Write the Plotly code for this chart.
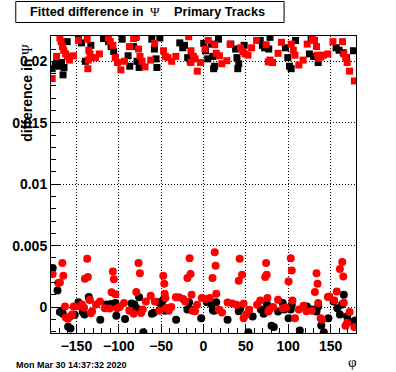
import plotly.graph_objects as go

# ---------------- data ----------------
# black squares (upper band)
sq_black_phi = [-178.6, -175, -173.4, -170.3, -167.5, -165.8, -164.6, -160.9, -147.6, -144, -139.5, -133,
                -118, -112, -109, -106, -104, -96, -89, -87, -80, -82.5, -78.5, -76, -61, -58, -56, -55,
                -51.5, -28, -24.5, -22.4, -18.7, -15.6, 0.3, 2.3, 5, 9.4, 11, 13.2, 12, 17.7, 32.2, 37.9,
                39.5, 41.6, 40.5, 48, 67, 69.5, 72, 78.5, 77, 96.7, 99.5, 101.5, 103.5, 108.7, 127, 125,
                130, 135.4, 156.5, 160, 165, 168.7, 177]
sq_black_val = [0.0194, 0.0197, 0.01985, 0.0196, 0.0199, 0.0189, 0.0195, 0.0216, 0.0218, 0.0215, 0.0200, 0.0213,
                0.02185, 0.0216, 0.0212, 0.0208, 0.0203, 0.0218, 0.02045, 0.0196, 0.02195, 0.0212, 0.0200, 0.0195,
                0.0218, 0.0210, 0.0202, 0.0195, 0.0219, 0.0215, 0.0211, 0.0213, 0.0203, 0.0200, 0.02146, 0.02086,
                0.0202, 0.0214, 0.0204, 0.0196, 0.0194, 0.0218, 0.0214, 0.0210, 0.0203, 0.0198, 0.0194, 0.0213,
                0.0217, 0.0213, 0.0211, 0.02195, 0.0210, 0.0211, 0.0203, 0.0196, 0.0194, 0.0217, 0.0218, 0.0206,
                0.0204, 0.0199, 0.0211, 0.0209, 0.0207, 0.0203, 0.02086]

# red squares (upper band)
sq_red_phi = [-178.6, -173.4, -169.5, -168, -166.5, -165, -162.7, -160.5, -158.2, -153.3, -147.6, -137.3,
              -135.4, -134, -136, -131.5, -136.5, -127.4, -122.9, -112.3, -110, -107, -104, -101.5, -97.5,
              -93.3, -87.3, -82.5, -79.3, -76.7, -75, -72.5, -69, -62.3, -57.7, -47.2, -45, -42, -37.5,
              -32.7, -17.5, -14.8, -12, -9.9, -14.8, -7.3, -3.4, 1.8, 5.6, 13.2, 15.1, 18.9, 21.6, 27.6,
              31.4, 43.6, 46.5, 49, 52.5, 56.8, 62.6, 74, 76.5, 78.5, 81.5, 88, 92.1, 103.5, 106, 108,
              112.5, 117.5, 122.4, 128.5, 131, 133.4, 134.6, 136, 138.5, 141.5, 146.7, 152.8, 164.1, 165.6,
              168, 169.5, 172.4, 178.1]
sq_red_val = [0.0186, 0.0204, 0.0219, 0.0216, 0.0212, 0.0209, 0.0206, 0.0204, 0.0201, 0.02045, 0.0217, 0.0218,
              0.0209, 0.0206, 0.0201, 0.0203, 0.0194, 0.0203, 0.0206, 0.0219, 0.0216, 0.0213, 0.0203, 0.0199, 0.0193,
              0.0200, 0.0212, 0.02185, 0.0220, 0.0210, 0.0204, 0.0200, 0.01955, 0.0201, 0.02146, 0.02086, 0.0204, 0.0203, 0.0200,
              0.0204, 0.0220, 0.02086, 0.0204, 0.0202, 0.0199, 0.0192, 0.0199, 0.0210, 0.0217, 0.02135, 0.02065, 0.02045, 0.0198, 0.02005,
              0.0214, 0.0211, 0.0208, 0.0206, 0.0205, 0.0211, 0.0217, 0.02135, 0.01995, 0.0201, 0.0199, 0.02065, 0.02155, 0.0214, 0.0209, 0.0205,
              0.0197, 0.0201, 0.0214, 0.0219, 0.0217, 0.0212, 0.0205, 0.02025, 0.02035, 0.0205, 0.0206, 0.0216, 0.0216, 0.0206,
              0.0203, 0.0199, 0.0192, 0.0184]

# black circles (lower band)
ci_black_phi = [-178, -172.3, -169.5, -167, -166, -159.8, -157, -152, -147.6, -142.5, -140.5, -135.4, -134.5,
                -121.8, -114.5, -111, -109, -102.9, -104, -92.6, -85, -81.5, -76, -79, -71, -61,
                -58.8, -53, -49.5, -47.5, -50, -45.5, -42, -32.3, -19, -17, -15, -2.7, 4, 9.5, 15, 11, 12.5,
                28.4, 41.6, 43.5, 53, 58, 67.8, 71, 76.5, 75, 80.3, 83, 88, 93.6, 95.5, 100.4, 103, 104.2,
                113.7, 122, 127.7, 133.4, 135.4, 139, 142, 147.4, 153.5, 158, 161, 163.5, 165.6, 169.5,
                172.4, 179]
ci_black_val = [0.00317, 0.00135, -0.0004, -0.0003, -0.00055, -0.0016, -0.00175, -0.00063, 0.0004, -0.0004, -0.0006, 0.00081, 0.0006,
                -0.00103, 0.0002, 0.0001, 0.00025, -0.00071, 0.00033, -0.00098, 0.0003, 0.0002, 0.0008, -0.0001, -0.00205, -0.00054,
                -0.00047, 0.0004, 0.0003, 0.0006, -0.0001, -0.0003, -0.0001, -0.00103, -0.0002, 0.0004, -0.0002, -0.0009, 0.0004, 0.0002, 0.0004, -0.00025, -0.0003,
                -0.00103, -0.00035, -0.0001, -0.00205, -0.00076, -0.0002, -0.00055, -0.0002, 0.0002, -0.00152, -0.00163, -0.00036, 0.00033, -0.0002, -0.0009, -0.0002, 0.00019,
                -0.0019, 0.00005, -0.0002, -0.00036, 0.00005, -0.0015, -0.00205, -0.0009, 0.00046, -0.0001, -0.0006, 0.0002, 0.001, -0.00076,
                -0.00117, -0.00109]

# red circles (lower band)
ci_red_phi = [-178, -171.5, -169.5, -166.6, -165.4, -163.5, -162.5, -160, -157, -155, -153.3, -146, -143.5, -141,
              -137.3, -140, -136.5, -134.3, -133, -131.5, -126.8, -122.2, -116.5, -110.8, -107, -105.8, -108.5, -104,
              -102, -99, -93.8, -87.6, -82.4, -76.7, -75.1, -79.3, -71.7, -73.6, -68, -62.3, -57.5,
              -47.5, -46.3, -45.8, -45, -52, -44.5, -41, -38, -32.7, -29, -24, -21.5, -16.4, -15.3, -19, -14.1,
              -13, -10, -7.6, -2, 2.5, 7.5, 13.2, 14.3, 10.6, 15.1, 18.2, 21.9, 28.4, 34, 39, 42.7, 45.5, 41.6,
              47.3, 47.3, 50.5, 54, 63.2, 67, 73.9, 74.6, 72.8, 75.4, 76.5, 82.2, 78, 88, 93.6, 97.4, 103, 104.2,
              100.4, 105, 108, 112.6, 118, 121.5, 127.7, 133.4, 134.6, 131.5, 135.4, 138.3, 140, 146.7, 148.5,
              154.3, 157.3, 163.8, 161, 165, 165.6, 172.4, 167.6, 169.5, 178]
ci_red_val = [0.0027, 0.00195, 0.002, 0.00358, 0.00255, 0.00005, -0.00085, -0.00095, -0.00075, -0.0006, 0.00005, 0.00005, 0.0002, -0.00005,
              0.00393, 0.0023, 0.00245, 0.0006, -0.0005, -0.00035, 0.0002, 0.00046, -0.0001, -0.00012, 0.0029, 0.00227, 0.0012, 0.00105,
              -0.0001, 0.0, 0.00033, -0.0003, -0.00055, 0.00358, 0.00276, 0.00122, -0.0002, -0.00049, 0.00046, 0.00092, 0.00046,
              0.00255, 0.0019, 0.00108, 0.00073, -0.0003, -0.0001, -0.0003, 0.0, 0.0008, 0.0008, 0.00065, 0.00046, 0.00398, 0.0027, 0.00236, 0.001,
              -0.0003, -0.00035, 0.00019, 0.00073, 0.00065, 0.00073, 0.00447, 0.00336, 0.00236, 0.00108, -0.00022, -0.00044, 0.00037, 0.0003, 0.00019, 0.00393, 0.00263, 0.00214,
              0.00027, -0.0009, -0.0006, -0.00022, 0.00019, 0.00054, 0.00358, 0.00263, 0.00244, 0.00073, -0.00036, 0.0, -0.0002, 0.00059, -0.0001, -0.00003, 0.00398, 0.00298,
              0.00208, 0.00054, -0.0009, -0.0002, 0.0001, -0.00035, -0.0003, 0.00276, 0.0019, 0.00122, 0.00033, -0.0009, -0.00103, 0.00081, 0.00086,
              0.00054, 0.00127, 0.00366, 0.00309, 0.00249, 0.00035, -0.0004, -0.00152, -0.0013, -0.00163]

x_tick_vals = [-150, -100, -50, 0, 50, 100, 150]
x_tick_text = ["\u2212150", "\u2212100", "\u221250", "0", "50", "100", "150"]
y_tick_vals = [0, 0.005, 0.01, 0.015, 0.02]
y_tick_text = ["0", "0.005", "0.01", "0.015", "0.02"]

title_left = "Fitted difference in"
title_sym = "\u03a8"
title_right = "Primary Tracks"
y_title = "difference in"
x_title = "\u03c6"
date_text = "Mon Mar 30 14:37:32 2020"

# ---------------- layout geometry ----------------
W, H = 396, 372
ML, MR, MT, MB = 40, 40, 36, 39
PW, PH = W - ML - MR, H - MT - MB


def xp(px):
    return (px - ML) / PW


def yp(py):
    return 1 - (py - MT) / PH


SANS = "Liberation Sans"
SERIF = "Liberation Serif"

fig = go.Figure()
fig.add_trace(go.Scatter(x=sq_black_phi, y=sq_black_val, mode="markers",
                         marker=dict(symbol="square", size=7, color="black", line=dict(width=0))))
fig.add_trace(go.Scatter(x=sq_red_phi, y=sq_red_val, mode="markers",
                         marker=dict(symbol="square", size=7, color="#ff0000", line=dict(width=0))))
fig.add_trace(go.Scatter(x=ci_black_phi, y=ci_black_val, mode="markers",
                         marker=dict(symbol="circle", size=8, color="black", line=dict(width=0))))
fig.add_trace(go.Scatter(x=ci_red_phi, y=ci_red_val, mode="markers",
                         marker=dict(symbol="circle", size=8, color="#ff0000", line=dict(width=0))))

axis_common = dict(showline=True, linecolor="black", linewidth=1, mirror=True,
                   ticks="inside", ticklen=9, tickcolor="black", tickwidth=1,
                   showgrid=True, gridcolor="black", gridwidth=1, griddash="1px,2px",
                   zeroline=False,
                   tickfont=dict(family=SANS, size=14, color="black", weight="bold"))

fig.update_xaxes(range=[-180, 180], tickmode="array", tickvals=x_tick_vals, ticktext=x_tick_text,
                 minor=dict(ticks="inside", ticklen=5, tickcolor="black", tick0=0, dtick=10, showgrid=False),
                 **axis_common)
fig.update_yaxes(range=[-0.00211, 0.02206], tickmode="array", tickvals=y_tick_vals, ticktext=y_tick_text,
                 minor=dict(ticks="inside", ticklen=5, tickcolor="black", tick0=0, dtick=0.001, showgrid=False),
                 **axis_common)

fig.update_layout(
    width=W, height=H,
    margin=dict(l=ML, r=MR, t=MT, b=MB, pad=0),
    paper_bgcolor="white", plot_bgcolor="white",
    showlegend=False,
    shapes=[dict(type="rect", xref="paper", yref="paper",
                 x0=xp(3.5), x1=xp(281.5), y0=yp(22.5), y1=yp(1.5),
                 line=dict(color="black", width=1), fillcolor="white")],
)

annotations = [
    dict(text="<b>" + title_left + "</b>", x=xp(17.3), y=yp(12), xanchor="left", yanchor="middle",
         font=dict(family=SANS, size=12.7, color="black")),
    dict(text=title_sym, x=xp(148), y=yp(12), xanchor="center", yanchor="middle",
         font=dict(family=SERIF, size=13, color="black")),
    dict(text="<b>" + title_right + "</b>", x=xp(166.7), y=yp(12), xanchor="left", yanchor="middle",
         font=dict(family=SANS, size=12.7, color="black")),
    dict(text="<b>" + y_title + "</b> <span style='font-family:Liberation Serif'>" + title_sym + "</span>",
         x=xp(15), y=yp(93), xanchor="center", yanchor="middle", textangle=-90,
         font=dict(family=SANS, size=14, color="black")),
    dict(text=x_title, x=xp(352), y=yp(362), xanchor="center", yanchor="middle",
         font=dict(family=SERIF, size=15, color="black")),
    dict(text="<b>" + date_text + "</b>", x=xp(3), y=yp(365), xanchor="left", yanchor="middle",
         font=dict(family=SANS, size=9, color="black")),
]
for a in annotations:
    a.update(xref="paper", yref="paper", showarrow=False, borderpad=0)
fig.update_layout(annotations=annotations)

fig.write_html("out.html", config={"displayModeBar": False},
               post_script="document.body.style.margin='0';document.body.style.overflow='hidden';")
